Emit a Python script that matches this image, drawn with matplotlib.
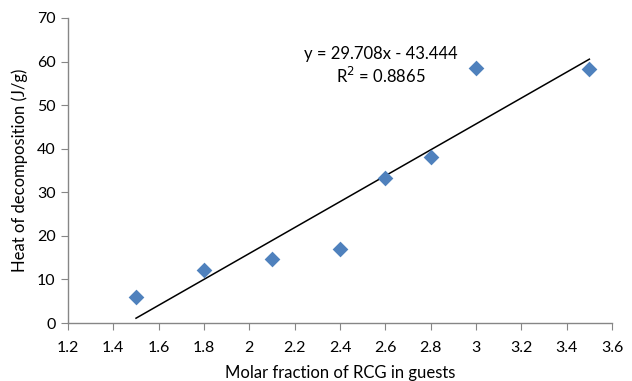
import numpy as np
import matplotlib
matplotlib.use('Agg')
import matplotlib.pyplot as plt

plt.rcParams['font.family'] = ['Lato', 'DejaVu Sans']

# molar fraction vs heat of decomposition
molar_frac = [1.5, 1.8, 2.1, 2.4, 2.6, 2.8, 3.0, 3.5]
heat = [6.0, 12.2, 14.8, 17.0, 33.2, 38.2, 58.6, 58.2]
x_ticks = [1.2, 1.4, 1.6, 1.8, 2, 2.2, 2.4, 2.6, 2.8, 3, 3.2, 3.4, 3.6]
y_ticks = [0, 10, 20, 30, 40, 50, 60, 70]

fig = plt.figure(figsize=(6.32, 3.81), dpi=100)
ax = fig.add_axes([0.1076, 0.152, 0.8608, 0.801])

# linear trendline (as given on chart)
slope, intercept = 29.708, -43.444
xl = np.array([min(molar_frac), max(molar_frac)])
ax.plot(xl, slope * xl + intercept, color='black', lw=1.1, zorder=2)

ax.scatter(molar_frac, heat, marker='D', s=64, color='#4F81BD', zorder=3, linewidths=0)

ax.text(2.58, 61.8, 'y = 29.708x - 43.444', ha='center', va='center', fontsize=12)
ax.text(2.58, 56.6, 'R$^2$ = 0.8865', ha='center', va='center', fontsize=12)

ax.set_xlim(1.2, 3.6)
ax.set_ylim(0, 70)
ax.set_xticks(x_ticks)
ax.set_xticklabels([str(t) for t in x_ticks])
ax.set_yticks(y_ticks)

for s in ['top', 'right']:
    ax.spines[s].set_visible(False)
for s in ['left', 'bottom']:
    ax.spines[s].set_color('#868686')
    ax.spines[s].set_linewidth(1)
ax.tick_params(direction='out', length=5, color='#868686', labelsize=11.5, pad=4)
ax.tick_params(axis='x', pad=8)

ax.set_xlabel('Molar fraction of RCG in guests', fontsize=12, labelpad=7)
ax.set_ylabel('Heat of decomposition (J/g)', fontsize=12, labelpad=6)

fig.savefig('out.png', dpi=100)
